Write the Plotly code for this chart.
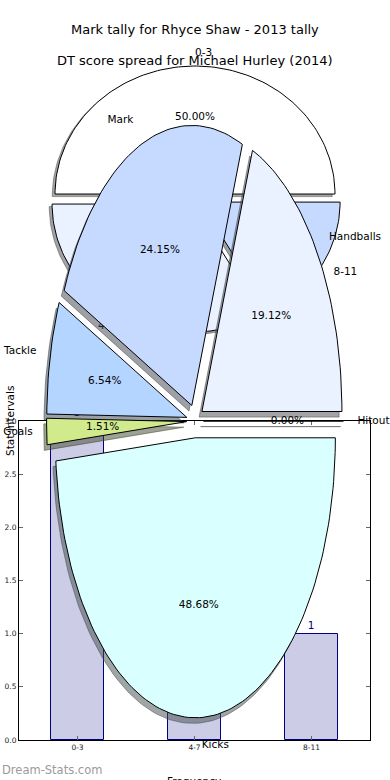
import numpy as np
import plotly.graph_objects as go

# ---------------- data ----------------
# bar chart (frequency per DT score interval)
intervals = ["0-3", "4-7", "8-11"]
frequency = [3, 2, 1]

# DT score spread pie (Michael Hurley 2014)
dt_labels = ["0-3", "4-7", "8-11"]
dt_values = [3, 2, 1]
dt_colors = ["#ffffff", "#eaf1ff", "#c6d9ff"]

# Mark tally pie (Rhyce Shaw 2013), percentages
stat_labels = ["Hitout", "Handballs", "Mark", "Tackle", "Goals", "Kicks"]
stat_values = [0.00, 19.12, 24.15, 6.54, 1.51, 48.68]
stat_colors = ["#d9ffff", "#eaf1ff", "#c6d9ff", "#b3d5ff", "#d0ea8c", "#d9ffff"]

title_stats = "Mark tally for Rhyce Shaw - 2013 tally"
title_dt = "DT score spread for Michael Hurley (2014)"
y_title = "Stat Intervals"
x_title = "Frequency"
watermark = "Dream-Stats.com"

W, H = 390, 780
FONT = "DejaVu Sans"
LABEL_SIZE = 10.5


def hex_rgb(h):
    h = h.lstrip("#")
    return tuple(int(h[i:i + 2], 16) for i in (0, 2, 4))


def pie_traces(labels, values, colors, explode, xa, ya, fsize=LABEL_SIZE):
    total = float(sum(values))
    shadows, wedges = [], []
    lab_x, lab_y, lab_pos, pct_x, pct_y, pct_t = [], [], [], [], [], []
    theta = 0.0
    for lab, v, c in zip(labels, values, colors):
        span = 360.0 * v / total
        t1, t2 = theta, theta + span
        theta = t2
        mid = np.radians((t1 + t2) / 2)
        ox, oy = explode * np.cos(mid), explode * np.sin(mid)
        n = max(2, int(span / 1.5) + 2)
        t = np.radians(np.linspace(t1, t2, n))
        xs = np.concatenate([[ox], ox + np.cos(t), [ox]])
        ys = np.concatenate([[oy], oy + np.sin(t), [oy]])
        r, g, b = hex_rgb(c)
        sc = "rgba(%d,%d,%d,0.5)" % (0.3 * r, 0.3 * g, 0.3 * b)
        shadows.append(go.Scatter(x=xs - 0.02, y=ys - 0.02, mode="lines", fill="toself",
                                  fillcolor=sc, line=dict(color=sc, width=1),
                                  xaxis=xa, yaxis=ya, hoverinfo="skip", showlegend=False))
        wedges.append(go.Scatter(x=xs, y=ys, mode="lines", fill="toself",
                                 fillcolor=c, line=dict(color="black", width=1),
                                 xaxis=xa, yaxis=ya, hoverinfo="skip", showlegend=False))
        lab_x.append(ox + 1.1 * np.cos(mid))
        lab_y.append(oy + 1.1 * np.sin(mid))
        lab_pos.append("middle right" if np.cos(mid) > 0 else "middle left")
        pct_x.append(ox + 0.6 * np.cos(mid))
        pct_y.append(oy + 0.6 * np.sin(mid))
        pct_t.append("%.2f%%" % (100.0 * v / total))
    texts = [
        go.Scatter(x=lab_x, y=lab_y, mode="text", text=labels, textposition=lab_pos,
                   textfont=dict(family=FONT, size=fsize, color="black"),
                   xaxis=xa, yaxis=ya, hoverinfo="skip", showlegend=False),
        go.Scatter(x=pct_x, y=pct_y, mode="text", text=pct_t, textposition="middle center",
                   textfont=dict(family=FONT, size=fsize, color="black"),
                   xaxis=xa, yaxis=ya, hoverinfo="skip", showlegend=False),
    ]
    return shadows + wedges + texts


fig = go.Figure()

# bar chart (bottom layer)
fig.add_trace(go.Bar(
    x=intervals, y=frequency, width=0.45,
    marker=dict(color="rgba(0,0,128,0.2)", line=dict(color="#000080", width=1)),
    text=frequency, textposition="outside", cliponaxis=False,
    textfont=dict(family=FONT, size=10.5, color="#000080"),
    hoverinfo="skip", showlegend=False, xaxis="x", yaxis="y"))

# DT pie (middle layer)
for tr in pie_traces(dt_labels, dt_values, dt_colors, 0.042, "x2", "y2"):
    fig.add_trace(tr)

# Mark tally pie (top layer)
for tr in pie_traces(stat_labels, stat_values, stat_colors, 0.06, "x3", "y3"):
    fig.add_trace(tr)


def py(px):
    return 1 - px / H


# pie axes: unit radius -> 140 px horizontally
xr = [-195 / 140, 195 / 140]
dt_cy, dt_ry = 199.4, 128.0
st_cy, st_ry = 421.0, 280.0

hidden = dict(domain=[0, 1], visible=False, fixedrange=True, automargin=False)

fig.update_layout(
    width=W, height=H,
    margin=dict(l=0, r=0, t=0, b=0, pad=0, autoexpand=False),
    paper_bgcolor="white", plot_bgcolor="rgba(0,0,0,0)",
    font=dict(family=FONT, color="black"),
    showlegend=False,
    bargap=0,
    xaxis=dict(domain=[19 / W, 370 / W], range=[-0.5, 2.5], type="category",
               showline=True, linecolor="black", linewidth=1, mirror="ticks",
               ticks="inside", ticklen=4, tickcolor="#666", tickwidth=1,
               tickfont=dict(family=FONT, size=7.5, color="#222"),
               showgrid=False, zeroline=False, anchor="y", fixedrange=True,
               automargin=False),
    yaxis=dict(domain=[py(740), py(421)], range=[0, 3], dtick=0.5, tickformat=".1f",
               showline=True, linecolor="black", linewidth=1, mirror="ticks",
               ticks="inside", ticklen=4, tickcolor="#666", tickwidth=1,
               tickfont=dict(family=FONT, size=7.5, color="#222"),
               showgrid=False, zeroline=False, anchor="x", fixedrange=True,
               automargin=False),
    xaxis2=dict(range=xr, anchor="y2", **hidden),
    yaxis2=dict(range=[(dt_cy - H) / dt_ry, dt_cy / dt_ry], anchor="x2", **hidden),
    xaxis3=dict(range=xr, anchor="y3", **hidden),
    yaxis3=dict(range=[(st_cy - H) / st_ry, st_cy / st_ry], anchor="x3", **hidden),
    annotations=[
        dict(text=title_stats, x=0.5, y=py(30), xref="paper", yref="paper",
             xanchor="center", yanchor="middle",
             showarrow=False, font=dict(family=FONT, size=13, color="black")),
        dict(text=title_dt, x=0.5, y=py(61), xref="paper", yref="paper",
             xanchor="center", yanchor="middle",
             showarrow=False, font=dict(family=FONT, size=13, color="black")),
        dict(text=y_title, x=10 / W, y=py(421), xref="paper", yref="paper",
             xanchor="center", yanchor="middle",
             textangle=-90, showarrow=False, font=dict(family=FONT, size=10.5, color="black")),
        dict(text=x_title, x=194 / W, y=py(773), xref="paper", yref="paper",
             xanchor="center", yanchor="top", showarrow=False,
             font=dict(family=FONT, size=10.5, color="black")),
        dict(text=watermark, x=0, y=py(770), xref="paper", yref="paper",
             xanchor="left", yanchor="middle",
             showarrow=False, font=dict(family=FONT, size=11.5, color="#9a9a9a")),
    ],
)

fig.write_html("out.html", config={"displayModeBar": False},
               post_script="document.body.style.margin='0px';")
